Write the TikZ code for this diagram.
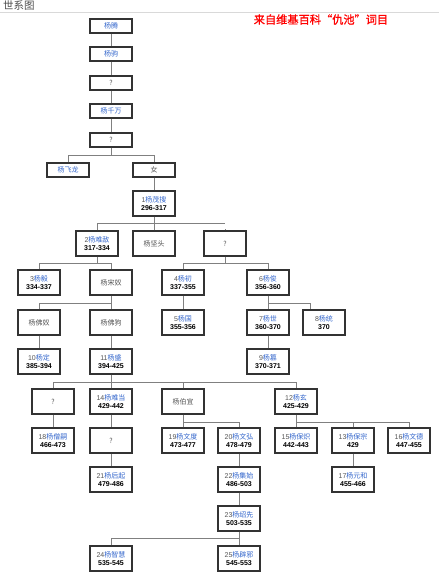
\documentclass[tikz,border=0pt]{standalone}
\usepackage{fontspec}
\setmainfont{Liberation Sans}
\newfontfamily\cjk{Noto Sans CJK SC}
\newfontfamily\cjkb[FakeBold=1.2]{Noto Sans CJK SC}
\definecolor{nameblue}{HTML}{3366CC}
\definecolor{numgray}{HTML}{555555}
\definecolor{linegray}{HTML}{808080}
\definecolor{boxedge}{HTML}{333333}
\newcommand\YN[3]{{\color{numgray}#1}{\cjk\color{nameblue}#2}\\[-0.5pt]{\bfseries #3}}
\newcommand\YS[1]{{\cjk\color{nameblue}#1}}
\newcommand\YP[1]{{\cjk\color{numgray}#1}}
\tikzset{
  box/.style={draw=boxedge, line width=1.1pt, fill=white, minimum width=42pt, inner sep=0pt, align=center, font=\fontsize{7}{8.5}\selectfont, text=black},
  sbox/.style={box, minimum height=14pt},
  dbox/.style={box, minimum height=25pt},
  conn/.style={draw=linegray, line width=0.8pt}
}
\begin{document}
\begin{tikzpicture}[x=1pt,y=-1pt]
\useasboundingbox (0,0) rectangle (439,576);
% header
\node[anchor=west, text=black!70, font=\cjk\fontsize{10.5}{12}\selectfont, inner sep=0pt] (title) at (3,6) {世系图};
\draw[draw=black!15, line width=0.8pt] (0,12.8) -- (439,12.8);
\node[text=red, font=\cjkb\fontsize{11.2}{13}\selectfont, inner sep=0pt] (src) at (321,19.5) {来自维基百科“仇池”词目};
% nodes
\node[sbox] (teng) at (111,26) {\YS{杨腾}};
\node[sbox] (ju) at (111,54) {\YS{杨驹}};
\node[sbox] (q1) at (111,83) {\YP{?}};
\node[sbox] (qw) at (111,111) {\YS{杨千万}};
\node[sbox] (q2) at (111,140) {\YP{?}};
\node[sbox] (feilong) at (68,170) {\YS{杨飞龙}};
\node[sbox] (nv) at (154,170) {\YP{女}};
\node[dbox] (y1) at (154,203.5) {\YN{1}{杨茂搜}{296-317}};
\node[dbox] (y2) at (97,243.5) {\YN{2}{杨难敌}{317-334}};
\node[dbox] (jiantou) at (154,243.5) {\YP{杨坚头}};
\node[dbox] (q3) at (225,243.5) {\YP{?}};
\node[dbox] (y3) at (39,282.5) {\YN{3}{杨毅}{334-337}};
\node[dbox] (songnu) at (111,282.5) {\YP{杨宋奴}};
\node[dbox] (y4) at (183,282.5) {\YN{4}{杨初}{337-355}};
\node[dbox] (y6) at (268,282.5) {\YN{6}{杨俊}{356-360}};
\node[dbox] (fonu) at (39,322.5) {\YP{杨佛奴}};
\node[dbox] (fogou) at (111,322.5) {\YP{杨佛狗}};
\node[dbox] (y5) at (183,322.5) {\YN{5}{杨国}{355-356}};
\node[dbox] (y7) at (268,322.5) {\YN{7}{杨世}{360-370}};
\node[dbox] (y8) at (324,322.5) {\YN{8}{杨统}{370}};
\node[dbox] (y10) at (39,361.5) {\YN{10}{杨定}{385-394}};
\node[dbox] (y11) at (111,361.5) {\YN{11}{杨盛}{394-425}};
\node[dbox] (y9) at (268,361.5) {\YN{9}{杨篡}{370-371}};
\node[dbox] (q4) at (53,401.5) {\YP{?}};
\node[dbox] (y14) at (111,401.5) {\YN{14}{杨难当}{429-442}};
\node[dbox] (boyi) at (183,401.5) {\YP{杨伯宜}};
\node[dbox] (y12) at (296,401.5) {\YN{12}{杨玄}{425-429}};
\node[dbox] (y18) at (53,440.5) {\YN{18}{杨僧嗣}{466-473}};
\node[dbox] (q5) at (111,440.5) {\YP{?}};
\node[dbox] (y19) at (183,440.5) {\YN{19}{杨文度}{473-477}};
\node[dbox] (y20) at (239,440.5) {\YN{20}{杨文弘}{478-479}};
\node[dbox] (y15) at (296,440.5) {\YN{15}{杨保炽}{442-443}};
\node[dbox] (y13) at (353,440.5) {\YN{13}{杨保宗}{429}};
\node[dbox] (y16) at (409,440.5) {\YN{16}{杨文德}{447-455}};
\node[dbox] (y21) at (111,479.5) {\YN{21}{杨后起}{479-486}};
\node[dbox] (y22) at (239,479.5) {\YN{22}{杨集始}{486-503}};
\node[dbox] (y17) at (353,479.5) {\YN{17}{杨元和}{455-466}};
\node[dbox] (y23) at (239,518.5) {\YN{23}{杨绍先}{503-535}};
\node[dbox] (y24) at (111,558.5) {\YN{24}{杨智慧}{535-545}};
\node[dbox] (y25) at (239,558.5) {\YN{25}{杨辟邪}{545-553}};
% bus coordinates
\coordinate (bA) at (0,155);
\coordinate (bB) at (0,223);
\coordinate (bC) at (0,263);
\coordinate (bD) at (0,303);
\coordinate (bE) at (0,382);
\coordinate (bF) at (0,422);
\coordinate (bG) at (0,538);
% straight chains
\draw[conn] (teng) -- (ju);
\draw[conn] (ju) -- (q1);
\draw[conn] (q1) -- (qw);
\draw[conn] (qw) -- (q2);
\draw[conn] (nv) -- (y1);
\draw[conn] (y4) -- (y5);
\draw[conn] (y7) -- (y9);
\draw[conn] (fonu) -- (y10);
\draw[conn] (fogou) -- (y11);
\draw[conn] (q4) -- (y18);
\draw[conn] (y14) -- (q5);
\draw[conn] (q5) -- (y21);
\draw[conn] (y20) -- (y22);
\draw[conn] (y22) -- (y23);
\draw[conn] (y13) -- (y17);
% bus A
\draw[conn] (q2.south) -- (q2.south |- bA);
\draw[conn] (feilong.north) -- (feilong.north |- bA) -- (nv.north |- bA) -- (nv.north);
% bus B
\draw[conn] (y1.south) -- (y1.south |- bB);
\draw[conn] (y2.north) -- (y2.north |- bB) -- (q3.north |- bB);
\draw[conn] (jiantou.north) -- (jiantou.north |- bB);
\draw[conn] (q3.north) -- ([yshift=-6pt]q3.north |- bB);
% bus C
\draw[conn] (y2.south) -- (y2.south |- bC);
\draw[conn] (y3.north) -- (y3.north |- bC) -- (songnu.north |- bC) -- (songnu.north);
\draw[conn] (q3.south) -- (q3.south |- bC);
\draw[conn] (y4.north) -- (y4.north |- bC) -- (y6.north |- bC) -- (y6.north);
% bus D
\draw[conn] (songnu.south) -- (songnu.south |- bD);
\draw[conn] (fonu.north) -- (fonu.north |- bD) -- (fogou.north |- bD) -- (fogou.north);
\draw[conn] (y6.south) -- (y6.south |- bD);
\draw[conn] (y7.north) -- (y7.north |- bD) -- ([xshift=-14pt]y8.north |- bD) -- ([xshift=-14pt]y8.north);
% bus E
\draw[conn] (y11.south) -- (y11.south |- bE);
\draw[conn] (q4.north) -- (q4.north |- bE) -- (y12.north |- bE) -- (y12.north);
\draw[conn] (y14.north) -- (y14.north |- bE);
\draw[conn] (boyi.north) -- (boyi.north |- bE);
% bus F
\draw[conn] (boyi.south) -- (boyi.south |- bF);
\draw[conn] (y19.north) -- (y19.north |- bF) -- (y20.north |- bF) -- (y20.north);
\draw[conn] (y12.south) -- (y12.south |- bF);
\draw[conn] (y15.north) -- (y15.north |- bF) -- (y16.north |- bF) -- (y16.north);
\draw[conn] (y13.north) -- (y13.north |- bF);
% bus G
\draw[conn] (y23.south) -- (y23.south |- bG);
\draw[conn] (y24.north) -- (y24.north |- bG) -- (y25.north |- bG) -- (y25.north);
\end{tikzpicture}
\end{document}
